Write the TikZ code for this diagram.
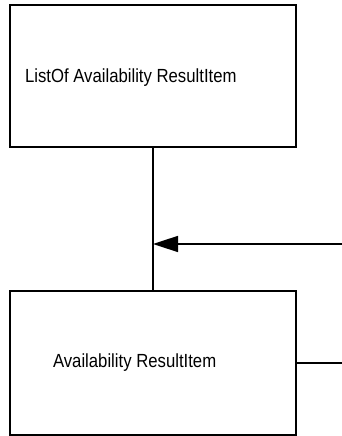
\documentclass[tikz,border=0pt]{standalone}
\usepackage{fontspec}
\setmainfont{Liberation Sans}
\usetikzlibrary{positioning,arrows.meta,calc}

\begin{document}
\begin{tikzpicture}[x=1pt, y=1pt, line width=1.6pt,
    classbox/.style={draw, rectangle, minimum width=286pt, inner sep=0pt},
    classlbl/.style={anchor=west, inner sep=0pt, font=\fontsize{19}{21}\selectfont}]
    \useasboundingbox (0,0) rectangle (342,436);

    % class boxes
    \node[classbox, minimum height=142pt] (list) at (153,360) {};
    \node[classbox, minimum height=144pt] (item) at (153,73) {};

    \node[classlbl] (listlbl) at ([xshift=15pt, yshift=-2pt]list.west) {\scalebox{0.88}[1]{ListOf Availability ResultItem}};
    \node[classlbl] (itemlbl) at ([xshift=43pt]item.west) {\scalebox{0.88}[1]{Availability ResultItem}};

    % connectors
    \coordinate (arrowin) at (342,192);
    \coordinate (lineout) at (342,73);
    \draw (list.south) -- (item.north);
    \draw[-{Triangle[length=25pt, width=16pt]}] (arrowin) -- (list.south |- arrowin);
    \draw (item.east) -- (lineout);
\end{tikzpicture}
\end{document}
